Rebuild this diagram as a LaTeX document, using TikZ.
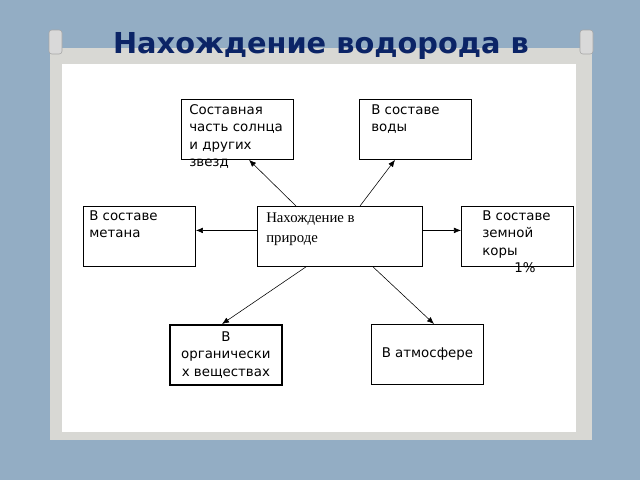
\documentclass[tikz,border=0pt]{standalone}
\usepackage{fontspec}
\setmainfont{DejaVu Sans}
\newfontfamily\serifrm{Liberation Serif}
\usetikzlibrary{positioning,arrows.meta,calc}
\definecolor{wallblue}{HTML}{93ADC4}
\definecolor{framegrey}{HTML}{D8D8D4}
\definecolor{titleblue}{HTML}{0B2466}
\tikzset{
  box/.style={draw, line width=0.6pt, minimum width=2.8cm, minimum height=1.5cm, inner sep=0pt},
  boxtext/.style={anchor=north west, align=left, inner sep=0pt, font=\fontsize{9.5}{12.5}\selectfont},
  link/.style={-{Latex[length=5pt,width=4pt]}, line width=0.4pt},
  pin/.style={fill=gray!30, draw=gray!70, rounded corners=2pt}
}
\begin{document}
\begin{tikzpicture}[x=0.025cm,y=-0.025cm]
\useasboundingbox (0,0) rectangle (640,480);
\fill [wallblue] (0,0) rectangle (640,480);
\fill [framegrey] (50,48) rectangle (592,440);
\fill [white] (62,64) rectangle (576,432);
% pins
\draw [pin] (49,30) rectangle (62,54);
\draw [pin] (580,30) rectangle (593,54);
\node [font=\bfseries\fontsize{20.5}{24}\selectfont, text=titleblue] (title) at (321,46) {Нахождение водорода в};
% boxes
\node [box, anchor=north west] (stars) at (181,99) {};
\node [box, anchor=north west] (water) at (359,99) {};
\node [box, anchor=north west] (methane) at (83,206) {};
\node [box, anchor=north west, minimum width=4.125cm] (nature) at (257,206) {};
\node [box, anchor=north west] (crust) at (461,206) {};
\node [box, anchor=north west, line width=1.2pt] (organic) at (169,324) {};
\node [box, anchor=north west] (air) at (371,324) {};
% texts
\node [boxtext, text width=2.8cm] at (189,104) {Составная\\часть солнца\\и других\\звезд};
\node [boxtext] at (371,104) {В составе\\воды};
\node [boxtext] at (89,210) {В составе\\метана};
\node [boxtext, font=\serifrm\fontsize{10.5}{14}\selectfont] at (266,213) {Нахождение в\\природе};
\node [boxtext] at (482,210) {В составе\\земной\\коры};
\node [boxtext] (pct) at (514,262) {1\%};
\node [align=center, inner sep=0pt, font=\fontsize{9.5}{12.5}\selectfont] at (organic) {В\\органически\\х веществах};
\node [inner sep=0pt, font=\fontsize{9.5}{12.5}\selectfont] at (air) {В атмосфере};
% links
\draw [link] ($(nature.north west)+(39,0)$) -- ($(stars.south west)+(68,0)$);
\draw [link] ($(nature.north west)+(103,0)$) -- ($(water.south west)+(36,0)$);
\draw [link] ($(nature.west)+(0,-6)$) -- ($(methane.east)+(0,-6)$);
\draw [link] ($(nature.east)+(0,-6)$) -- ($(crust.west)+(0,-6)$);
\draw [link] ($(nature.south west)+(49,0)$) -- ($(organic.north west)+(53,0)$);
\draw [link] ($(nature.south west)+(116,0)$) -- ($(air.north west)+(63,0)$);
\end{tikzpicture}
\end{document}
